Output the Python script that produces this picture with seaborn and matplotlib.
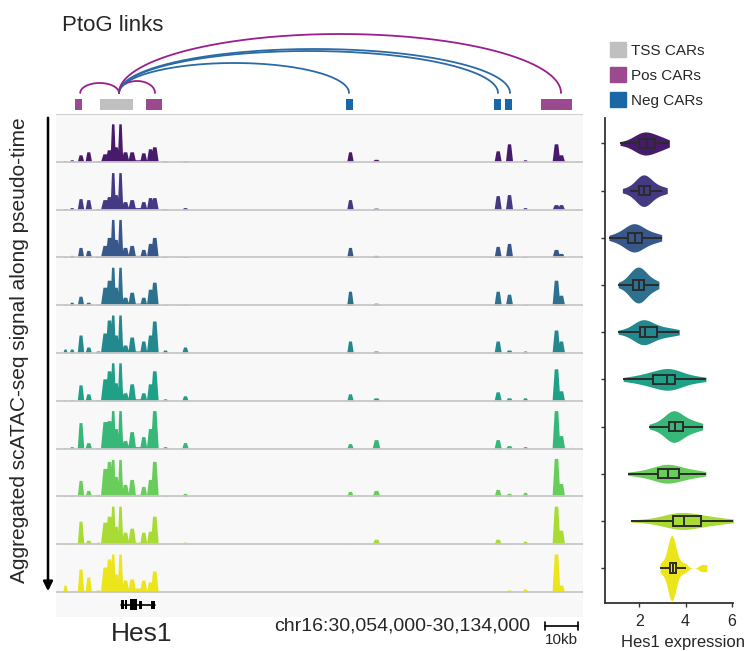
import numpy as np
import pandas as pd
import matplotlib
matplotlib.use("Agg")
import matplotlib.pyplot as plt
import seaborn as sns
from matplotlib.patches import Patch, FancyArrowPatch

sns.set_theme(style="white")
plt.rcParams["font.family"] = ["Liberation Sans", "DejaVu Sans"]

# ------------------------------------------------------------------ data
region_label = "chr16:30,054,000-30,134,000"
region_len_kb = 80
stages = [f"T{i}" for i in range(1, 11)]

# accessibility peaks (kb from region start) and their heights per pseudo-time bin
peak_kb = [1.37, 2.38, 3.72, 4.90, 6.38, 7.44, 8.05, 8.61, 9.11, 9.72, 10.47, 11.49,
           12.45, 13.25, 14.27, 14.92, 16.55, 19.58, 44.63, 48.58, 67.05, 68.77,
           71.2, 75.9, 76.66]
sig_T1 = [1, 2, 7, 10, 1, 8, 12, 38, 15, 38, 10, 10, 2, 9, 13, 15, 1, 1, 10, 2.5, 11, 18, 2, 18, 7]
sig_T2 = [1, 2, 11, 10, 1, 10, 13, 37, 15, 37, 8, 10, 2, 8, 12, 12, 1, 2, 10, 1.5, 14, 15, 2, 5, 5]
sig_T3 = [1, 2, 10, 7, 1, 12, 20, 38, 18, 38, 10, 12, 2, 8, 14, 20, 1, 1, 10, 2, 11, 14, 1, 8, 4]
sig_T4 = [1, 3, 9, 3, 1, 18, 25, 38, 18, 38, 8, 13, 2, 8, 16, 23, 1, 1, 14, 2, 14, 11, 1, 25, 10]
sig_T5 = [4, 4, 18, 6, 2, 20, 33, 38, 18, 38, 8, 16, 2, 12, 18, 32, 3, 6, 12, 2, 12, 3, 2, 23, 12]
sig_T6 = [1, 1, 16, 7, 1, 22, 30, 38, 18, 38, 8, 17, 2, 8, 17, 30, 2, 5, 7, 3, 9, 3, 3, 32, 10]
sig_T7 = [1, 2, 26, 6, 1, 27, 28, 38, 20, 38, 8, 17, 2, 12, 20, 38, 2, 6, 5, 9, 9, 3, 2, 38, 13]
sig_T8 = [1, 1, 16, 6, 2, 28, 35, 37, 20, 37, 12, 17, 2, 10, 17, 35, 1, 3, 5, 6, 7, 3, 4, 38, 13]
sig_T9 = [1, 1, 23, 4, 2, 22, 28, 38, 18, 38, 12, 16, 2, 12, 13, 28, 1, 2, 1, 5, 5, 1, 3, 38, 14]
sig_T10 = [7, 1, 23, 15, 2, 25, 33, 38, 18, 38, 12, 13, 4, 12, 10, 21, 1, 1, 0, 1, 0, 2, 3, 38, 7]
signals = [sig_T1, sig_T2, sig_T3, sig_T4, sig_T5, sig_T6, sig_T7, sig_T8, sig_T9, sig_T10]

# CARs
car_start_kb = [6.68, 2.88, 13.66, 73.62, 44.02, 66.49, 68.16]
car_end_kb = [11.69, 3.95, 16.09, 78.33, 45.09, 67.55, 69.22]
car_type = ["TSS CARs", "Pos CARs", "Pos CARs", "Pos CARs", "Neg CARs", "Neg CARs", "Neg CARs"]

# peak-to-gene links (from the Hes1 TSS)
link_anchor_kb = 9.56
link_target_kb = [3.68, 15.03, 44.48, 67.10, 68.92, 76.66]
link_type = ["Pos CARs", "Pos CARs", "Neg CARs", "Neg CARs", "Neg CARs", "Pos CARs"]

# Hes1 gene model
gene_start_kb, gene_end_kb = 9.87, 15.03
exon_start_kb = [9.87, 10.47, 11.16, 12.60, 14.35]
exon_end_kb = [10.25, 10.78, 12.37, 13.13, 15.03]

# Hes1 expression per pseudo-time bin
expr_T1 = [1.17, 1.55, 1.75, 1.85, 1.95, 2.0, 2.08, 2.15, 2.2, 2.26, 2.32, 2.38, 2.44, 2.5, 2.6, 2.68, 2.78, 2.88, 3.0, 3.12, 3.30]
expr_T2 = [1.27, 1.6, 1.78, 1.88, 1.95, 2.0, 2.06, 2.1, 2.14, 2.18, 2.22, 2.26, 2.3, 2.35, 2.4, 2.46, 2.55, 2.65, 2.8, 3.0, 3.21]
expr_T3 = [0.69, 1.0, 1.2, 1.35, 1.45, 1.53, 1.6, 1.66, 1.71, 1.76, 1.81, 1.86, 1.91, 1.97, 2.05, 2.13, 2.25, 2.4, 2.55, 2.75, 2.97]
expr_T4 = [1.09, 1.4, 1.55, 1.63, 1.69, 1.74, 1.79, 1.84, 1.89, 1.94, 1.99, 2.03, 2.07, 2.11, 2.15, 2.20, 2.28, 2.38, 2.5, 2.65, 2.85]
expr_T5 = [1.09, 1.5, 1.75, 1.9, 1.98, 2.03, 2.08, 2.13, 2.17, 2.21, 2.25, 2.3, 2.37, 2.45, 2.6, 2.75, 2.9, 3.05, 3.25, 3.5, 3.73]
expr_T6 = [1.31, 1.8, 2.1, 2.3, 2.5, 2.61, 2.75, 2.9, 3.05, 3.15, 3.21, 3.27, 3.32, 3.38, 3.45, 3.54, 3.7, 3.9, 4.15, 4.5, 4.88]
expr_T7 = [2.43, 2.8, 3.0, 3.15, 3.25, 3.30, 3.36, 3.41, 3.45, 3.5, 3.54, 3.58, 3.63, 3.7, 3.8, 3.90, 4.0, 4.15, 4.3, 4.5, 4.74]
expr_T8 = [1.5, 2.0, 2.3, 2.5, 2.7, 2.82, 2.95, 3.05, 3.12, 3.19, 3.25, 3.31, 3.38, 3.47, 3.6, 3.73, 3.9, 4.1, 4.3, 4.55, 4.88]
expr_T9 = [1.65, 2.5, 2.9, 3.15, 3.3, 3.44, 3.58, 3.7, 3.8, 3.87, 3.94, 4.02, 4.12, 4.25, 4.45, 4.67, 4.85, 5.05, 5.25, 5.6, 6.13]
expr_T10 = [2.9, 3.05, 3.15, 3.24, 3.27, 3.30, 3.32, 3.34, 3.36, 3.38, 3.41, 3.44, 3.46, 3.48, 3.51, 3.54, 3.57, 3.61, 3.7, 3.85, 4.0, 4.68, 4.92]
expr = [expr_T1, expr_T2, expr_T3, expr_T4, expr_T5, expr_T6, expr_T7, expr_T8, expr_T9, expr_T10]

# ------------------------------------------------------------------ styles
pal = [matplotlib.colormaps["viridis"](v) for v in np.linspace(0.07, 0.97, 10)]
type_color = {"TSS CARs": "#c0c0c0", "Pos CARs": "#9c4a8f", "Neg CARs": "#1a67a8"}
arc_color = {"Pos CARs": "#9a1f8c", "Neg CARs": "#2a6aa5"}
peak_halfwidth = [0.35, 0.4, 0.5, 0.5, 0.5, 0.7, 0.6, 0.42, 0.45, 0.42, 0.6, 0.6,
                  0.9, 0.55, 0.55, 0.6, 0.45, 0.5, 0.5, 0.6, 0.55, 0.55, 0.45, 0.6, 0.55]
link_height_px = [10, 12, 30, 42, 44, 59]
violin_width = [0.49, 0.67, 0.6, 0.76, 0.53, 0.46, 0.67, 0.4, 0.36, 1.38]
violin_bw = [1, 1, 1, 1, 1, 1, 1, 1, 1, 0.45]
ROW_PX = 47.8

W, H = 744, 651
fig = plt.figure(figsize=(W / 100, H / 100), dpi=100)


def rect(x0, y0, x1, y1):
    return [x0 / W, 1 - y1 / H, (x1 - x0) / W, (y1 - y0) / H]


ax_l = fig.add_axes(rect(56, 14, 583, 114))
ax_t = fig.add_axes(rect(56, 114, 583, 617))
ax_v = fig.add_axes(rect(605, 118, 733, 603))

# ---------------- links / CAR boxes
ax_l.set_xlim(0, region_len_kb)
ax_l.set_ylim(114, 14)
ax_l.axis("off")
cs = np.array(car_start_kb)
ce = np.array(car_end_kb)
ax_l.bar((cs + ce) / 2, 11, width=ce - cs, bottom=99,
         color=[type_color[t] for t in car_type], linewidth=0)
t = np.linspace(0, np.pi, 200)
for tgt, ty, hh in zip(link_target_kb, link_type, link_height_px):
    mid = (tgt + link_anchor_kb) / 2
    half = abs(tgt - link_anchor_kb) / 2
    ax_l.plot(mid + half * np.cos(t), 93 - hh * np.sin(t), color=arc_color[ty], lw=1.3)

# ---------------- tracks
ax_t.set_facecolor("#f8f8f8")
ax_t.set_xlim(0, region_len_kb)
ax_t.set_ylim(-25 / ROW_PX, 10)
ax_t.set_xticks([])
ax_t.set_yticks([])
for s in ax_t.spines.values():
    s.set_visible(False)
x = np.linspace(0, region_len_kb, 4001)
for i, sig in enumerate(signals):
    prof = np.zeros_like(x)
    for c, w, h in zip(peak_kb, peak_halfwidth, sig):
        prof = np.maximum(prof, h * np.clip((1 - np.abs(x - c) / w) * 1.8, 0, 1))
    base = 9 - i
    ax_t.fill_between(x, base, base + prof / ROW_PX, color=pal[i], lw=0)
    ax_t.axhline(base, color="#c8c8c8", lw=1.3)
ax_t.axhline(10, color="#d0d0d0", lw=1.5)

gy = -12.5 / ROW_PX
ax_t.plot([gene_start_kb, gene_end_kb], [gy, gy], color="black", lw=1.2)
es = np.array(exon_start_kb)
ee = np.array(exon_end_kb)
eh = np.array([9, 9, 11, 8, 8]) / ROW_PX
ax_t.bar((es + ee) / 2, eh, width=ee - es, bottom=gy - eh / 2, color="black", linewidth=0)

# ---------------- violins
df = pd.DataFrame({"stage": np.repeat(stages, [len(v) for v in expr]),
                   "expr": np.concatenate(expr)})
for i, s in enumerate(stages):
    sns.violinplot(data=df[df.stage == s], x="expr", y="stage", order=stages,
                   color=pal[i], width=violin_width[i], bw_adjust=violin_bw[i],
                   density_norm="width", cut=0, inner=None, linewidth=0,
                   saturation=1, ax=ax_v)
sns.boxplot(data=df, x="expr", y="stage", order=stages, hue="stage", hue_order=stages,
            palette=pal, width=0.2, showfliers=False, showcaps=False,
            linecolor="#2b2b2b", linewidth=1.4, saturation=1, legend=False, ax=ax_v)
ax_v.set_xlim(0.52, 6.05)
ax_v.set_ylim(9.74, -0.54)
ax_v.set_xticks([2, 4, 6])
ax_v.set_yticks(range(10))
ax_v.set_yticklabels([])
ax_v.set_ylabel("")
ax_v.set_xlabel("")
ax_v.tick_params(axis="both", direction="out", length=3, width=1, color="#333333",
                 labelsize=11.5, pad=5, left=True, bottom=True)
sns.despine(ax=ax_v)
for s in ("left", "bottom"):
    ax_v.spines[s].set_color("#333333")
    ax_v.spines[s].set_linewidth(1.3)
fig.text(621 / W, 1 - 647 / H, "Hes1 expression", fontsize=12, ha="left", va="baseline")

# ---------------- texts
fig.text(62 / W, 1 - 31 / H, "PtoG links", fontsize=16, ha="left", va="baseline")
handles = [Patch(color=type_color[k]) for k in ["TSS CARs", "Pos CARs", "Neg CARs"]]
fig.legend(handles, ["TSS CARs", "Pos CARs", "Neg CARs"], loc="upper left",
           bbox_to_anchor=(610 / W, 1 - 42 / H), frameon=False, fontsize=11,
           handlelength=1.05, handleheight=1.1, handletextpad=0.35,
           labelspacing=0.62, borderpad=0, borderaxespad=0)
fig.text(20 / W, 1 - 350 / H, "Aggregated scATAC-seq signal along pseudo-time",
         rotation=90, fontsize=15, ha="center", va="center")
fig.add_artist(FancyArrowPatch((48 / W, 1 - 115 / H), (48 / W, 1 - 594 / H),
                               transform=fig.transFigure, arrowstyle="-|>",
                               mutation_scale=14, lw=1.8, color="black"))
fig.text(142 / W, 1 - 634 / H, "Hes1", fontsize=19, ha="center", va="center")
fig.text(530 / W, 1 - 626 / H, region_label, fontsize=14, ha="right", va="center")
fig.add_artist(plt.Line2D([545 / W, 578 / W], [1 - 626 / H, 1 - 626 / H], color="black", lw=1.2))
for xx in (545, 578):
    fig.add_artist(plt.Line2D([xx / W, xx / W], [1 - 622 / H, 1 - 630 / H], color="black", lw=1.2))
fig.text(561 / W, 1 - 640 / H, "10kb", fontsize=11, ha="center", va="center")

fig.savefig("out.png", dpi=100)
